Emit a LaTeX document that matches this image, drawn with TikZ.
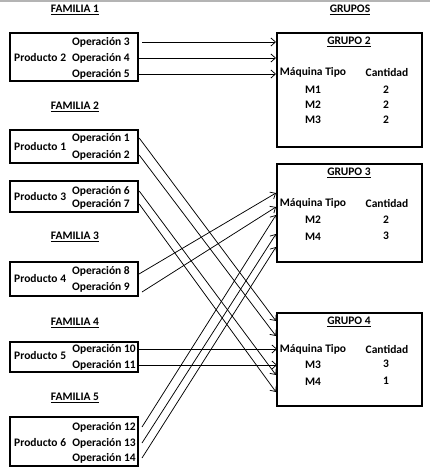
\documentclass[tikz,border=0pt]{standalone}
\usepackage{fontspec}
\setmainfont{Carlito}
\usetikzlibrary{arrows.meta,calc,positioning}
\definecolor{ink}{HTML}{000000}
\definecolor{rule}{HTML}{B4B4B4}

\begin{document}
\begin{tikzpicture}[
  x=1pt,
  y=-1pt,
  >={Straight Barb[length=4.5pt,width=8pt]},
  prodbox/.style={
    draw=ink,
    line width=2.4pt,
    minimum width=128pt,
    inner sep=0pt
  },
  grupobox/.style={
    draw=ink,
    line width=2.4pt,
    minimum width=145pt,
    inner sep=0pt
  },
  optext/.style={
    anchor=east,
    inner sep=0pt,
    font=\fontsize{11.5}{13}\selectfont\bfseries
  },
  prodtext/.style={
    anchor=west,
    inner sep=0pt,
    font=\fontsize{11.5}{13}\selectfont\bfseries
  },
  headtext/.style={
    inner sep=0pt,
    font=\fontsize{11.5}{13}\selectfont\bfseries
  },
  celltext/.style={
    inner sep=0pt,
    font=\fontsize{11.5}{13}\selectfont\bfseries
  },
  flow/.style={
    ->,
    draw=ink,
    line width=0.75pt
  }
]

\useasboundingbox (0,0) rectangle (430,471);
\draw[rule,line width=1.6pt] (0,0.8) -- (430,0.8);

% headers
\node[headtext] (fam1) at (75,10) {\underline{FAMILIA 1}};
\node[headtext] (fam2) at (75,107) {\underline{FAMILIA 2}};
\node[headtext] (fam3) at (75,237) {\underline{FAMILIA 3}};
\node[headtext] (fam4) at (75,323) {\underline{FAMILIA 4}};
\node[headtext] (fam5) at (75,398) {\underline{FAMILIA 5}};
\node[headtext] (grupos) at (350,10) {\underline{GRUPOS}};

% product boxes
\node[prodbox,minimum height=48pt] (p2) at (74,57) {};
\node[prodbox,minimum height=33pt] (p1) at (74,146.5) {};
\node[prodbox,minimum height=31pt] (p3) at (74,196.5) {};
\node[prodbox,minimum height=34pt] (p4) at (74,279) {};
\node[prodbox,minimum height=30pt] (p5) at (74,357) {};
\node[prodbox,minimum height=49pt] (p6) at (74,441.5) {};

\node[prodtext] (prod2) at (14,58) {Producto 2};
\node[prodtext] (prod1) at (14,147) {Producto 1};
\node[prodtext] (prod3) at (14,197) {Producto 3};
\node[prodtext] (prod4) at (14,279) {Producto 4};
\node[prodtext] (prod5) at (14,356) {Producto 5};
\node[prodtext] (prod6) at (14,443) {Producto 6};

% operations
\node[optext] (op3) at (130,42) {Operación 3};
\node[optext] (op4) at (130,58) {Operación 4};
\node[optext] (op5) at (130,74) {Operación 5};
\node[optext] (op1) at (130,138) {Operación 1};
\node[optext] (op2) at (130,155) {Operación 2};
\node[optext] (op6) at (130,191) {Operación 6};
\node[optext] (op7) at (130,204) {Operación 7};
\node[optext] (op8) at (130,271) {Operación 8};
\node[optext] (op9) at (130,287) {Operación 9};
\node[optext] (op10) at (136,349) {Operación 10};
\node[optext] (op11) at (136,365) {Operación 11};
\node[optext] (op12) at (136,427) {Operación 12};
\node[optext] (op13) at (136,443) {Operación 13};
\node[optext] (op14) at (136,458) {Operación 14};

% group boxes
\node[grupobox,minimum height=114pt] (g2) at (349.5,90) {};
\node[grupobox,minimum height=98pt] (g3) at (349.5,213) {};
\node[grupobox,minimum height=93pt] (g4) at (349.5,359.5) {};

\node[celltext] (g2title) at (349,42) {\underline{GRUPO 2}};
\node[celltext] (g2mq) at (313,72) {Máquina Tipo};
\node[celltext] (g2cant) at (387,72) {Cantidad};
\node[celltext] (g2m1) at (313,90) {M1};
\node[celltext] (g2m2) at (313,105) {M2};
\node[celltext] (g2m3) at (313,120) {M3};
\node[celltext] (g2c1) at (386,90) {2};
\node[celltext] (g2c2) at (386,105) {2};
\node[celltext] (g2c3) at (386,120) {2};

\node[celltext] (g3title) at (349,173) {\underline{GRUPO 3}};
\node[celltext] (g3mq) at (313,203) {Máquina Tipo};
\node[celltext] (g3cant) at (387,203) {Cantidad};
\node[celltext] (g3m2) at (313,220) {M2};
\node[celltext] (g3m4) at (313,237) {M4};
\node[celltext] (g3c2) at (386,220) {2};
\node[celltext] (g3c4) at (386,236) {3};

\node[celltext] (g4title) at (349,322) {\underline{GRUPO 4}};
\node[celltext] (g4mq) at (313,349) {Máquina Tipo};
\node[celltext] (g4cant) at (387,349) {Cantidad};
\node[celltext] (g4m3) at (313,365) {M3};
\node[celltext] (g4m4) at (313,382) {M4};
\node[celltext] (g4c3) at (386,364) {3};
\node[celltext] (g4c4) at (386,381) {1};

% arrow tips on the groups
\coordinate (g2in1) at (276,42);
\coordinate (g2in2) at (276,58);
\coordinate (g2in3) at (276,74);
\coordinate (g3in1) at (276,193);
\coordinate (g3in2) at (276,207);
\coordinate (g3in3) at (276,215);
\coordinate (g3in4) at (276,234);
\coordinate (g3in5) at (276,247);
\coordinate (g4in1) at (276,321);
\coordinate (g4in2) at (276,336);
\coordinate (g4in3) at (277,349);
\coordinate (g4in4) at (277,365);
\coordinate (g4in5) at (276,375);
\coordinate (g4in6) at (276,392);

% connectors
\draw[flow] ([xshift=12pt]op3.east) -- (g2in1);
\draw[flow] (op4.east -| p2.east) -- (g2in2);
\draw[flow] (op5.east -| p2.east) -- (g2in3);

\draw[flow] (op1.east -| p1.east) -- (g4in1);
\draw[flow] (op2.east -| p1.east) -- (g4in2);
\draw[flow] (op6.east -| p3.east) -- (g4in5);
\draw[flow] (op7.east -| p3.east) -- (g4in6);

\draw[flow] ([xshift=9pt,yshift=-3pt]op8.east) -- (g3in1);
\draw[flow] ([xshift=12pt,yshift=-5pt]op9.east) -- (g3in2);

\draw[flow] (op10.east -| p5.east) -- (g4in3);
\draw[flow] (op11.east -| p5.east) -- (g4in4);

\draw[flow] ([xshift=6pt]op12.east) -- (g3in3);
\draw[flow] ([xshift=6pt]op13.east) -- (g3in4);
\draw[flow] ([xshift=6pt]op14.east) -- (g3in5);

\end{tikzpicture}
\end{document}
